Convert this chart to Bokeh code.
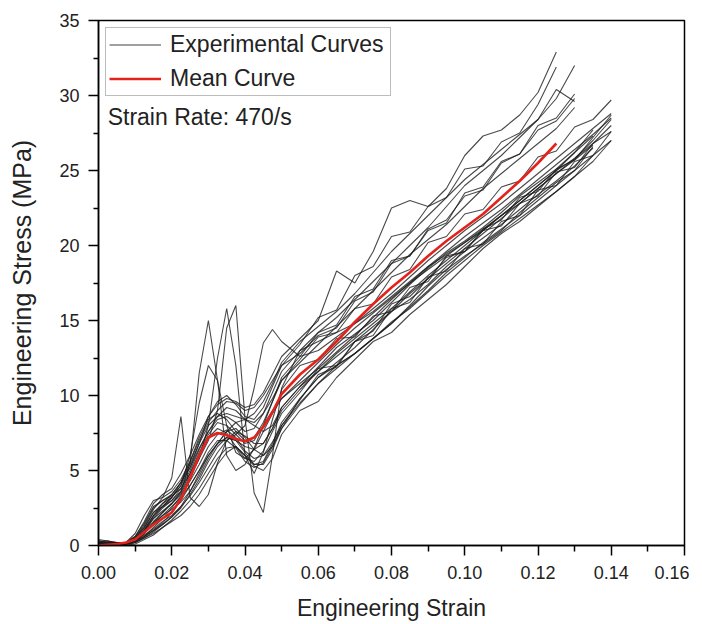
from bokeh.plotting import figure
from bokeh.models import FixedTicker, NumeralTickFormatter, Legend, LegendItem, Label, Range1d
from bokeh.embed import file_html
from bokeh.resources import INLINE

# ---- data ----
strain = [0.0, 0.0025, 0.005, 0.0075, 0.01, 0.0125, 0.015, 0.0175, 0.02, 0.0225,
          0.025, 0.0275, 0.03, 0.0325, 0.035, 0.0375, 0.04, 0.0425, 0.045, 0.0475,
          0.05, 0.055, 0.06, 0.065, 0.07, 0.075, 0.08, 0.085, 0.09, 0.095,
          0.10, 0.105, 0.11, 0.115, 0.12, 0.125, 0.13, 0.135, 0.14]

exp_L1 = [0.3,0.2,0.1,0.2,0.6, 1.5,2.6,3.0,3.3,3.8, 4.8,6.0,7.2,7.8,7.5, 6.6,5.8,5.6,6.3,7.6, 8.8,10.2,11.8,12.0,13.6, 14.0,15.8,16.2,17.9,18.3, 19.8,20.1,21.6,22.0,23.7, 24.0,25.6,26.0,27.6]
exp_L2 = [0.1,0.1,0.0,0.1,0.4, 1.0,1.8,2.3,2.8,3.4, 4.3,5.4,6.6,7.4,7.7, 7.2,6.3,5.8,6.0,6.9, 8.0,9.7,11.4,11.9,13.6, 14.3,16.1,16.6,17.8,19.2, 19.6,21.1,21.7,23.2,23.6, 25.1,25.7,27.2,28.7]
exp_L3 = [0.2,0.2,0.1,0.1,0.3, 0.8,1.4,2.0,2.6,3.2, 4.0,5.0,6.2,7.0,7.0, 6.5,5.6,5.2,5.5,6.6, 8.0,9.5,10.8,12.0,12.8, 13.8,14.8,16.0,17.3,18.4, 19.3,20.1,21.0,22.2,23.2, 24.2,25.0,26.6]
exp_L4 = [0.4,0.3,0.1,0.2,0.8, 2.0,3.0,3.2,4.5,8.6, 3.2,2.6,3.4,5.5,7.0, 7.6,7.3,6.8,6.8,7.8, 9.2,10.6,11.9,13.2,14.1, 15.0,16.2,17.4,18.5,19.5, 20.3,21.2,22.2,23.3,24.2, 25.1,26.2,27.3]
exp_L5 = [0.1,0.1,0.1,0.1,0.2, 0.6,1.2,1.8,2.5,3.3, 4.5,5.8,7.0,9.0,14.5, 16.0,8.5,3.5,2.2,6.0, 10.5,13.0,13.6,14.2,14.8, 15.6,16.6,17.6,18.6,19.4, 20.2,21.1,22.0,22.8,23.8, 24.8,25.7,26.7]
exp_L6 = [0.2,0.1,0.1,0.2,0.5, 1.2,2.2,2.6,3.0,3.6, 5.5,11.5,15.0,11.0,6.0, 5.0,5.4,6.5,8.0,9.0, 9.8,10.8,11.8,12.9,14.0, 15.2,16.4,17.5,18.4,19.3, 20.2,21.0,22.0,23.0,24.0, 25.0,25.8,26.8,28.0]
exp_L7 = [0.1,0.2,0.2,0.1,0.3, 0.9,1.6,2.2,2.8,3.5, 4.6,5.8,8.0,12.5,15.8, 12.0,6.0,4.8,6.2,8.4, 10.4,12.0,12.4,13.8,13.9, 15.3,15.6,17.2,17.6,19.3, 19.6,21.0,21.3,22.8,23.3, 24.9,25.2,26.8,27.6]
exp_L8 = [0.2,0.2,0.1,0.1,0.4, 1.1,2.0,2.6,3.2,4.0, 6.0,9.5,12.0,11.0,8.0, 6.2,5.8,6.4,7.6,8.8, 9.8,11.0,12.2,13.4,14.5, 15.5,16.5,17.5,18.6,19.6, 20.6,21.5,22.4,23.4,24.4, 25.4,26.4,27.4,28.5]
exp_L9 = [0.1,0.1,0.0,0.1,0.3, 0.7,1.1,1.6,2.0,2.6, 3.3,4.2,5.2,6.2,7.0, 7.4,8.0,10.5,13.5,14.4, 13.6,12.6,13.0,13.9,14.8, 15.8,16.8,17.9,19.0,20.0, 21.0,21.9,22.8,23.8,24.8, 25.8,26.8,27.8,28.8]
exp_L10 = [0.3,0.3,0.2,0.2,0.5, 1.4,2.5,3.0,3.4,4.2, 5.2,6.5,7.6,8.6,9.2, 9.0,8.4,8.2,8.8,9.8, 11.0,12.4,13.9,14.2,15.8, 16.1,17.9,18.4,20.2,20.6, 22.1,22.4,23.9,24.3,25.9, 26.3,27.9,28.4,29.7]
exp_L11 = [0.1,0.0,0.0,0.0,0.1, 0.4,0.7,1.2,1.7,2.3, 3.0,3.8,4.8,5.8,6.5, 6.6,6.0,5.4,5.6,6.8, 8.2,9.8,11.2,12.0,12.8, 13.8,14.9,15.8,16.9,18.0, 19.0,20.0,20.9,21.8,22.7, 23.6,24.6,26.0]
exp_L12 = [0.2,0.1,0.1,0.1,0.3, 0.6,1.0,1.5,2.2,3.0, 4.0,5.0,6.0,6.8,7.6, 8.2,8.4,8.0,7.6,8.0, 9.2,10.6,11.6,12.6,13.6, 14.6,15.6,16.4,17.4,18.6, 19.6,20.5,21.4,22.4,23.4, 24.3,25.3,26.5]
exp_L13 = [0.1,0.1,0.1,0.1,0.2, 0.5,0.8,1.2,1.6,2.0, 2.6,3.4,4.4,5.4,6.2, 6.6,6.0,5.3,5.0,5.8, 7.4,9.0,9.6,11.2,12.4, 13.6,14.2,15.4,16.4,17.4, 18.6,19.8,20.8,21.6,22.6, 23.6,24.6,25.6,27.0]
exp_L14 = [0.0,0.0,0.0,0.0,0.2, 0.5,0.9,1.4,1.9,2.6, 3.6,4.8,6.0,6.8,7.2, 7.0,6.6,6.4,6.8,7.8, 9.0,10.4,11.6,12.8,13.8, 14.8,15.8,16.9,18.0,19.0, 20.0,21.0,22.0,23.0,24.0, 25.0,26.2,27.7]
exp_L15 = [0.2,0.3,0.2,0.2,0.4, 0.9,1.5,2.0,2.4,2.9, 3.6,4.6,5.8,6.8,7.6, 7.8,7.2,6.4,6.0,6.6, 7.8,9.8,11.2,12.2,13.2, 14.4,15.6,16.8,17.8,18.8, 19.8,20.8,21.8,22.8,23.8, 24.8,25.8,27.0,28.4]
exp_L16 = [0.1,0.1,0.1,0.1,0.3, 0.6,1.0,1.4,1.9,2.5, 3.4,4.4,5.6,6.6,7.2, 7.0,6.2,5.4,5.4,6.4, 7.8,9.4,10.8,11.8,12.8, 13.8,14.8,15.9,17.0,18.2, 19.2,20.2,21.1,22.0,23.0, 24.0,25.0,26.0,27.0]
exp_U1 = [0.3,0.2,0.2,0.2,0.6, 1.6,2.8,3.4,3.8,4.8, 6.0,7.4,8.6,9.4,9.8, 9.6,9.2,9.4,10.2,11.4, 12.6,13.8,15.0,18.3,17.5, 19.6,22.5,23.0,22.6,23.8, 26.0,27.3,27.7,28.7,30.2, 32.9]
exp_U2 = [0.2,0.2,0.1,0.1,0.5, 1.3,2.4,3.2,3.6,4.4, 5.6,7.0,8.2,9.0,9.6, 9.5,9.0,9.2,10.0,11.0, 12.0,13.4,15.2,15.7,18.0, 18.6,20.6,20.9,22.6,23.2, 25.1,25.3,26.9,27.5,29.4, 31.9]
exp_U3 = [0.1,0.1,0.1,0.2,0.4, 1.0,2.0,2.8,3.4,4.2, 5.4,6.8,8.0,8.6,8.8, 8.6,8.4,8.8,9.6,10.8, 12.2,13.6,14.6,15.6,16.8, 18.2,19.6,20.8,22.0,23.2, 24.4,25.4,26.4,27.4,28.4, 29.8,32.0]
exp_U4 = [0.2,0.1,0.1,0.1,0.3, 0.9,1.8,2.5,3.0,3.8, 5.0,6.4,7.6,8.4,8.6, 8.2,7.6,7.8,8.8,10.2, 11.6,13.0,14.2,15.2,16.4, 17.6,18.8,20.0,21.2,22.6, 24.0,25.0,26.0,27.2,28.4, 30.4,29.6]
exp_U5 = [0.1,0.1,0.1,0.1,0.3, 0.8,1.5,2.2,2.8,3.6, 4.8,6.2,7.4,8.2,8.0, 7.4,6.8,7.0,8.0,9.6, 11.2,12.6,14.2,14.7,16.6, 17.1,19.0,19.3,21.0,21.5, 23.5,23.9,25.6,26.1,28.0, 28.5,30.1]
exp_U6 = [0.2,0.2,0.1,0.1,0.4, 1.2,2.2,2.8,3.2,4.0, 5.2,6.8,8.6,9.6,10.0, 9.4,8.6,8.4,9.2,10.6, 12.0,12.8,14.0,14.5,16.3, 16.9,18.8,19.3,21.1,21.7, 23.3,23.7,25.5,26.1,27.7, 28.3,29.8]
exp_U7 = [0.1,0.1,0.0,0.1,0.3, 1.0,1.9,2.6,3.2,4.2, 5.6,7.2,8.4,8.8,8.4, 7.6,7.0,7.2,8.2,9.6, 11.0,12.2,13.4,14.6,15.8, 17.0,18.2,19.4,20.4,21.4, 22.6,23.8,24.8,25.8,26.8, 27.8,29.2]

mean_stress = [0.0,0.05,0.1,0.2,0.4, 0.9,1.4,1.8,2.2,3.1, 4.5,6.0,7.2,7.5,7.35, 7.1,6.95,7.2,7.9,8.9, 10.1,11.4,12.4,13.6,14.9, 16.1,17.2,18.2,19.3,20.3, 21.2,22.1,23.2,24.3,25.5, 26.8]

experimental = [exp_L1, exp_L2, exp_L3, exp_L4, exp_L5, exp_L6, exp_L7, exp_L8,
                exp_L9, exp_L10, exp_L11, exp_L12, exp_L13, exp_L14, exp_L15, exp_L16,
                exp_U1, exp_U2, exp_U3, exp_U4, exp_U5, exp_U6, exp_U7]

x_ticks = [0.0, 0.02, 0.04, 0.06, 0.08, 0.10, 0.12, 0.14, 0.16]
x_minor = [0.01, 0.03, 0.05, 0.07, 0.09, 0.11, 0.13, 0.15]
y_ticks = [0, 5, 10, 15, 20, 25, 30, 35]
y_minor = [2.5, 7.5, 12.5, 17.5, 22.5, 27.5, 32.5]

FONT = "Liberation Sans"

p = figure(output_backend="svg", toolbar_location=None,
           x_range=Range1d(0, 0.16), y_range=Range1d(0, 35),
           frame_width=586, frame_height=525,
           min_border_left=98, min_border_right=5, min_border_top=20, min_border_bottom=68)
p.xgrid.visible = False
p.ygrid.visible = False
p.outline_line_color = "black"
p.outline_line_width = 1.5
p.outline_line_alpha = 1.0

p.xaxis.ticker = FixedTicker(ticks=x_ticks, minor_ticks=x_minor)
p.yaxis.ticker = FixedTicker(ticks=y_ticks, minor_ticks=y_minor)
p.xaxis.formatter = NumeralTickFormatter(format="0.00")

for ax in (p.xaxis, p.yaxis):
    ax.axis_line_color = "black"
    ax.axis_line_width = 1.5
    ax.major_tick_line_color = "#000000"
    ax.major_tick_line_width = 1.5
    ax.minor_tick_line_color = "#000000"
    ax.minor_tick_line_width = 1.5
    ax.major_label_text_font = FONT
    ax.major_label_text_font_size = "18px"
    ax.major_label_text_color = "#222222"
    ax.axis_label_text_font = FONT
    ax.axis_label_text_font_style = "normal"
    ax.axis_label_text_color = "#222222"

p.yaxis.major_tick_in = 0
p.yaxis.major_tick_out = 10
p.yaxis.minor_tick_in = 0
p.yaxis.minor_tick_out = 5
p.xaxis.major_tick_in = 0
p.xaxis.major_tick_out = 10
p.xaxis.minor_tick_in = 0
p.xaxis.minor_tick_out = 6

p.xaxis.major_label_standoff = 10
p.yaxis.major_label_standoff = 9
p.xaxis.axis_label = "Engineering Strain"
p.yaxis.axis_label = "Engineering Stress (MPa)"
p.xaxis.axis_label_text_font_size = "23px"
p.yaxis.axis_label_text_font_size = "25px"
p.xaxis.axis_label_standoff = 13
p.yaxis.axis_label_standoff = 20

for curve in experimental:
    p.line(strain[:len(curve)], curve, line_color="#1c1c1c", line_width=1.1, line_alpha=0.8)

legend_exp = p.line(strain[:1], exp_L1[:1], line_color="#808080", line_width=1.3)
mean_r = p.line(strain[:len(mean_stress)], mean_stress, line_color="#e3221c", line_width=2.6)

legend = Legend(items=[LegendItem(label="Experimental Curves", renderers=[legend_exp]),
                       LegendItem(label="Mean Curve", renderers=[mean_r])],
                location="top_left", glyph_width=52, glyph_height=15, label_height=15,
                label_width=217, label_standoff=9, spacing=7, padding=3, margin=7,
                border_line_color="#7a7a7a", border_line_width=1,
                label_text_font=FONT, label_text_font_size="23px", label_text_color="#222222",
                label_text_line_height=0.9,
                background_fill_alpha=1.0)
p.add_layout(legend)

p.add_layout(Label(x=0.0025, y=28.58, text="Strain Rate: 470/s", text_font=FONT,
                   text_font_size="23px", text_color="#222222", text_baseline="middle"))

open("out.html", "w").write(file_html(p, INLINE))
